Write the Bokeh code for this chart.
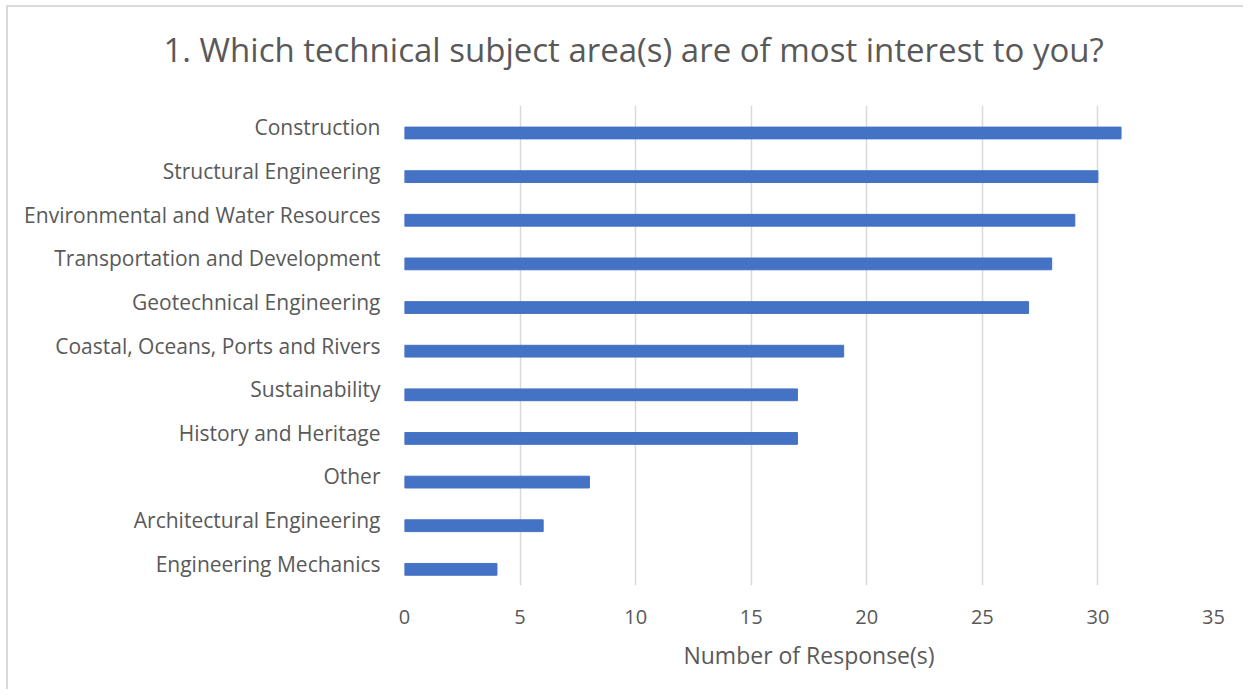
from bokeh.plotting import figure
from bokeh.models import FactorRange, Range1d, Title
from bokeh.transform import dodge
from bokeh.embed import file_html
from bokeh.resources import INLINE

categories = ["Construction", "Structural Engineering", "Environmental and Water Resources",
              "Transportation and Development", "Geotechnical Engineering",
              "Coastal, Oceans, Ports and Rivers", "Sustainability", "History and Heritage",
              "Other", "Architectural Engineering", "Engineering Mechanics"]
responses = [31, 30, 29, 28, 27, 19, 17, 17, 8, 6, 4]
x_ticks = [0, 5, 10, 15, 20, 25, 30, 35]
title_text = "1. Which technical subject area(s) are of most interest to you?"

FONT = "Open Sans"
GREY = "#595959"

factors = list(reversed(categories))
p = figure(width=1237, height=684, y_range=FactorRange(factors=factors, range_padding=0),
           x_range=Range1d(0, 35), output_backend="svg", toolbar_location=None,
           min_border_left=396, min_border_right=32, min_border_top=98, min_border_bottom=106)

p.hbar(y=dodge("cat", -0.13, range=p.y_range), right="val", height=0.27,
       source=dict(cat=categories, val=responses), color="#4472C4")

p.outline_line_color = None
p.styles = {"border-top": "2px solid #d9d9d9", "border-left": "2px solid #d9d9d9",
            "margin-left": "6px", "margin-top": "5px"}

# spacer between the title and the plot area
p.add_layout(Title(text=" ", text_font_size="1px", standoff=29), "above")
p.add_layout(Title(text=title_text, align="left", vertical_align="top", offset=-241,
                   standoff=0, text_font=FONT, text_font_size="33px",
                   text_font_style="normal", text_color=GREY), "above")

p.xgrid.grid_line_color = "#d9d9d9"
p.xgrid.grid_line_width = 1.5
p.ygrid.grid_line_color = None
p.xaxis.ticker = x_ticks
p.xaxis.axis_line_color = None
p.xaxis.major_tick_line_color = None
p.xaxis.minor_tick_line_color = None
p.xaxis.major_label_text_font = FONT
p.xaxis.major_label_text_font_size = "20px"
p.xaxis.major_label_text_color = GREY
p.xaxis.major_label_standoff = 18
p.xaxis.axis_label = "Number of Response(s)"
p.xaxis.axis_label_text_font = FONT
p.xaxis.axis_label_text_font_size = "23px"
p.xaxis.axis_label_text_font_style = "normal"
p.xaxis.axis_label_text_color = GREY
p.xaxis.axis_label_standoff = 12

p.yaxis.axis_line_color = None
p.yaxis.major_tick_line_color = None
p.yaxis.minor_tick_line_color = None
p.yaxis.major_label_text_font = FONT
p.yaxis.major_label_text_font_size = "21px"
p.yaxis.major_label_text_color = GREY
p.yaxis.major_label_standoff = 18

open("out.html", "w").write(file_html(p, INLINE))
